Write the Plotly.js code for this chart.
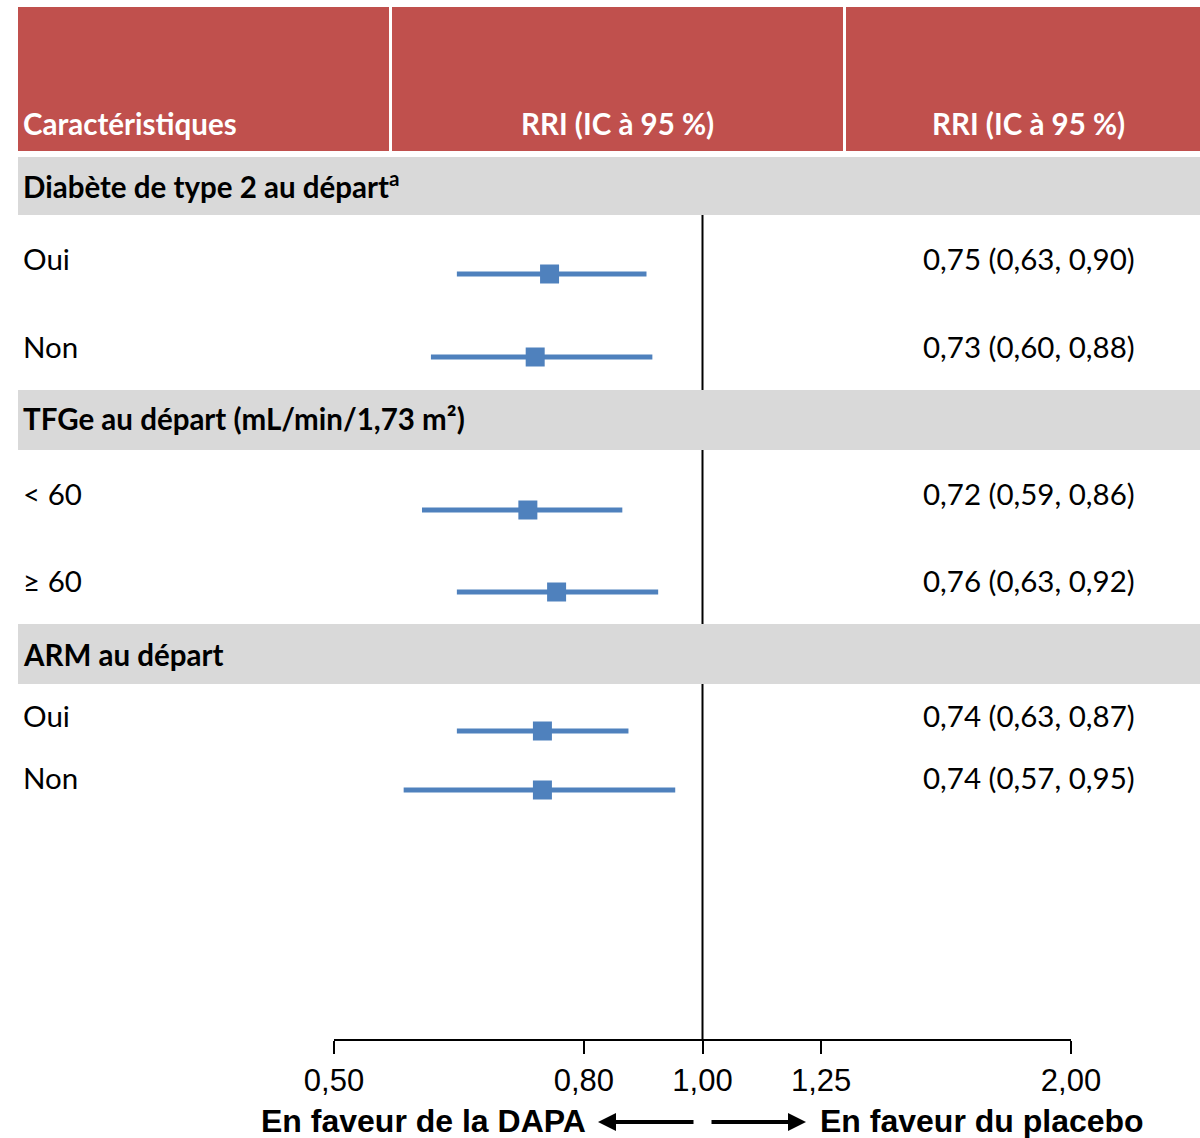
<!DOCTYPE html>
<html>
<head>
<meta charset="utf-8">
<script src="https://cdn.plot.ly/plotly-3.0.1.min.js"></script>
<style>html,body{margin:0;padding:0;background:#fff}</style>
</head>
<body>
<div id="chart" style="width:1200px;height:1138px"></div>
<script>
// ---- data ----
const groupTitles = ["Diabète de type 2 au départ<sup>a</sup>", "TFGe au départ (mL/min/1,73 m²)", "ARM au départ"];
const rowLabels = ["Oui", "Non", "< 60", "≥ 60", "Oui", "Non"];
const hrValues = [0.75, 0.73, 0.72, 0.76, 0.74, 0.74];
const ciLow = [0.63, 0.60, 0.59, 0.63, 0.63, 0.57];
const ciHigh = [0.90, 0.91, 0.86, 0.92, 0.87, 0.95];
const ciText = ["0,75 (0,63, 0,90)", "0,73 (0,60, 0,88)", "0,72 (0,59, 0,86)", "0,76 (0,63, 0,92)", "0,74 (0,63, 0,87)", "0,74 (0,57, 0,95)"];
const tickValues = [0.5, 0.8, 1.0, 1.25, 2.0];
const tickLabels = ["0,50", "0,80", "1,00", "1,25", "2,00"];
const headerLabels = ["Caractéristiques", "RRI (IC à 95 %)", "RRI (IC à 95 %)"];
const favourLabels = ["En faveur de la DAPA", "En faveur du placebo"];

// ---- layout helpers (pixel -> paper) ----
const W = 1200, H = 1138;
const px = v => v / W;
const py = v => 1 - v / H;
const markerRowY = [274, 357, 510, 592, 731, 790];
const labelRowY = [259, 346, 493, 580, 715, 777];
const groupRowY = [185, 419, 654];
const bandTop = [157, 390, 624];
const bandBottom = [215, 450, 684];

const RED = "#C0504D", GRAY = "#D9D9D9", BLUE = "#4F81BD";
const TXT = "Lato, 'Open Sans', sans-serif";
const ARIAL = "'Liberation Sans', Arial, sans-serif";
const FS = 29.5;

const trace = {
  type: "scatter",
  mode: "markers",
  x: hrValues,
  y: markerRowY,
  marker: {symbol: "square", size: 19, color: BLUE},
  error_x: {
    type: "data", symmetric: false,
    array: hrValues.map((v, i) => ciHigh[i] - v),
    arrayminus: hrValues.map((v, i) => v - ciLow[i]),
    thickness: 5, width: 0, color: BLUE
  },
  hoverinfo: "skip",
  cliponaxis: false
};

const shapes = [];
// reference line at 1
shapes.push({type: "line", xref: "x", yref: "y", x0: 1, x1: 1, y0: 215, y1: 1039,
  line: {color: "#000", width: 2}, layer: "above"});
// header cells
[[18, 389], [392, 843], [846, 1200]].forEach(c => {
  shapes.push({type: "rect", xref: "paper", yref: "paper", x0: px(c[0]), x1: px(c[1]),
    y0: py(151), y1: py(7), fillcolor: RED, line: {width: 0}, layer: "above"});
});
// gray group bands
bandTop.forEach((t, i) => {
  shapes.push({type: "rect", xref: "paper", yref: "paper", x0: px(18), x1: px(1200),
    y0: py(bandBottom[i]), y1: py(t), fillcolor: GRAY, line: {width: 0}, layer: "above"});
});

const annotations = [];
// headers
annotations.push({xref: "paper", yref: "paper", x: px(21), y: py(124), xanchor: "left", yanchor: "middle",
  text: headerLabels[0], showarrow: false, font: {family: TXT, size: FS, color: "#fff", weight: "bold"}});
annotations.push({xref: "paper", yref: "paper", x: px(617), y: py(124), xanchor: "center", yanchor: "middle",
  text: headerLabels[1], showarrow: false, font: {family: TXT, size: FS, color: "#fff", weight: "bold"}});
annotations.push({xref: "paper", yref: "paper", x: px(1028), y: py(124), xanchor: "center", yanchor: "middle",
  text: headerLabels[2], showarrow: false, font: {family: TXT, size: FS, color: "#fff", weight: "bold"}});
// group titles
groupTitles.forEach((g, i) => {
  annotations.push({xref: "paper", yref: "paper", x: px(21), y: py(groupRowY[i]), xanchor: "left", yanchor: "middle",
    text: g, showarrow: false, font: {family: TXT, size: FS, color: "#000", weight: "bold"}});
});
// row labels and CI text
rowLabels.forEach((r, i) => {
  annotations.push({xref: "paper", yref: "paper", x: px(21), y: py(labelRowY[i]), xanchor: "left", yanchor: "middle",
    text: r, showarrow: false, font: {family: TXT, size: FS, color: "#000"}});
  annotations.push({xref: "paper", yref: "paper", x: px(1137), y: py(labelRowY[i]), xanchor: "right", yanchor: "middle",
    text: ciText[i], showarrow: false, font: {family: TXT, size: FS, color: "#000"}});
});
// favour labels
annotations.push({xref: "paper", yref: "paper", x: px(588), y: py(1121), xanchor: "right", yanchor: "middle",
  text: favourLabels[0], showarrow: false, font: {family: ARIAL, size: 32, color: "#000", weight: "bold"}});
annotations.push({xref: "paper", yref: "paper", x: px(818), y: py(1121), xanchor: "left", yanchor: "middle",
  text: favourLabels[1], showarrow: false, font: {family: ARIAL, size: 32, color: "#000", weight: "bold"}});
// arrows
annotations.push({xref: "paper", yref: "paper", x: px(598), y: py(1122), ax: 97, ay: 0,
  text: "", showarrow: true, arrowhead: 2, arrowsize: 0.9, arrowwidth: 4, arrowcolor: "#000"});
annotations.push({xref: "paper", yref: "paper", x: px(806), y: py(1122), ax: -96, ay: 0,
  text: "", showarrow: true, arrowhead: 2, arrowsize: 0.9, arrowwidth: 4, arrowcolor: "#000"});

const layout = {
  width: W, height: H,
  margin: {l: 0, r: 0, t: 0, b: 0, pad: 0},
  paper_bgcolor: "#fff", plot_bgcolor: "rgba(0,0,0,0)",
  showlegend: false,
  xaxis: {
    type: "log", domain: [px(334), px(1071)],
    range: [Math.log10(0.5), Math.log10(2)], autorange: false,
    tickvals: tickValues, ticktext: tickLabels,
    showline: true, linecolor: "#000", linewidth: 2,
    ticks: "outside", ticklen: 13, tickwidth: 2, tickcolor: "#000",
    showgrid: false, zeroline: false,
    tickfont: {family: ARIAL, size: 31, color: "#000"},
    fixedrange: true
  },
  yaxis: {
    domain: [1 - 1039 / H, 1], range: [1039, 0], autorange: false,
    visible: false, showgrid: false, zeroline: false, fixedrange: true
  },
  shapes: shapes,
  annotations: annotations
};

Plotly.newPlot("chart", [trace], layout, {displayModeBar: false, staticPlot: true});
</script>
</body>
</html>
